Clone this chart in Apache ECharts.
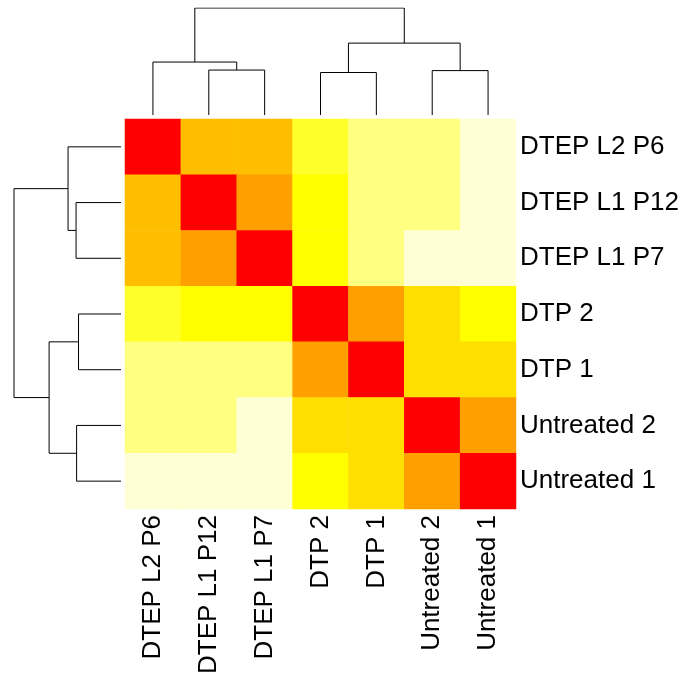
<!DOCTYPE html>
<html>
<head>
<meta charset="utf-8">
<script src="https://cdn.jsdelivr.net/npm/echarts@6/dist/echarts.min.js"></script>
<style>html,body{margin:0;padding:0;background:#fff}#c{width:688px;height:680px}</style>
</head>
<body>
<div id="c"></div>
<script>
// Sample labels (display order, same for rows and columns)
var labels = ['DTEP L2 P6', 'DTEP L1 P12', 'DTEP L1 P7', 'DTP 2', 'DTP 1', 'Untreated 2', 'Untreated 1'];

// Colour level of each cell (1 = red / most similar ... 12 = palest), rows top to bottom
var row0 = [1, 7, 7, 10, 11, 11, 12];
var row1 = [7, 1, 6, 9, 11, 11, 12];
var row2 = [7, 6, 1, 9, 11, 12, 12];
var row3 = [10, 9, 9, 1, 6, 8, 9];
var row4 = [11, 11, 11, 6, 1, 8, 8];
var row5 = [11, 11, 12, 8, 8, 1, 6];
var row6 = [12, 12, 12, 9, 8, 6, 1];
var matrix = [row0, row1, row2, row3, row4, row5, row6];

// heat.colors(12) palette
var palette = ['#FF0000', '#FF2000', '#FF4000', '#FF6000', '#FF8000', '#FF9F00',
               '#FFBF00', '#FFDF00', '#FFFF00', '#FFFF2A', '#FFFF80', '#FFFFD5'];

// Dendrogram merges: [childA, childB, height]; leaves are 0..6, merged clusters are 'c0','c1',...
var merges = [
  [1, 2, 0.42],        // c0
  [0, 'c0', 0.495],    // c1
  [3, 4, 0.397],       // c2
  [5, 6, 0.415],       // c3
  ['c2', 'c3', 0.672], // c4
  ['c1', 'c4', 1.0]    // c5
];

// ---- build data ----
var heatData = [];
for (var r = 0; r < matrix.length; r++) {
  for (var c = 0; c < matrix[r].length; c++) heatData.push([c, r, matrix[r][c]]);
}
var pieces = palette.map(function (col, i) { return { value: i + 1, color: col }; });

function nodeInfo(n, nodes) {
  if (typeof n === 'number') return { pos: n, h: 0 };
  return nodes[+n.slice(1)];
}
var nodes = [];
var segs = []; // each: list of [pos, height]
merges.forEach(function (m) {
  var a = nodeInfo(m[0], nodes), b = nodeInfo(m[1], nodes), h = m[2];
  segs.push([[a.pos, a.h], [a.pos, h], [b.pos, h], [b.pos, b.h]]);
  nodes.push({ pos: (a.pos + b.pos) / 2, h: h });
});
var topLines = segs.map(function (s) { return { coords: s.map(function (p) { return [p[0], p[1]]; }) }; });
var leftLines = segs.map(function (s) { return { coords: s.map(function (p) { return [p[1], p[0]]; }) }; });

var font = 'Liberation Sans, Arial, Helvetica, sans-serif';
var hidden = { show: false };

var chart = echarts.init(document.getElementById('c'), null, { renderer: 'canvas' });
chart.setOption({
  animation: false,
  backgroundColor: '#ffffff',
  grid: [
    { left: 125, top: 119, width: 391, height: 390 },
    { left: 125, top: 8, width: 391, height: 107 },
    { left: 14, top: 119, width: 107, height: 390 }
  ],
  xAxis: [
    { gridIndex: 0, type: 'category', data: labels, position: 'bottom',
      axisLine: hidden, axisTick: hidden, splitLine: hidden,
      axisLabel: { rotate: 90, margin: 6, color: '#000', fontSize: 26, fontFamily: font, interval: 0 } },
    { gridIndex: 1, type: 'value', min: -0.5, max: 6.5, show: false },
    { gridIndex: 2, type: 'value', min: 0, max: 1.0, inverse: true, show: false }
  ],
  yAxis: [
    { gridIndex: 0, type: 'category', data: labels, inverse: true, position: 'right',
      axisLine: hidden, axisTick: hidden, splitLine: hidden,
      axisLabel: { margin: 4, color: '#000', fontSize: 26, fontFamily: font, interval: 0 } },
    { gridIndex: 1, type: 'value', min: 0, max: 1.0, show: false },
    { gridIndex: 2, type: 'value', min: -0.5, max: 6.5, inverse: true, show: false }
  ],
  visualMap: {
    type: 'piecewise', show: false, seriesIndex: 0, dimension: 2, pieces: pieces
  },
  series: [
    { type: 'heatmap', xAxisIndex: 0, yAxisIndex: 0, data: heatData,
      itemStyle: { borderWidth: 0 }, emphasis: { disabled: true } },
    { type: 'lines', coordinateSystem: 'cartesian2d', xAxisIndex: 1, yAxisIndex: 1,
      polyline: true, data: topLines, silent: true,
      lineStyle: { color: '#000', width: 1, opacity: 1 } },
    { type: 'lines', coordinateSystem: 'cartesian2d', xAxisIndex: 2, yAxisIndex: 2,
      polyline: true, data: leftLines, silent: true,
      lineStyle: { color: '#000', width: 1, opacity: 1 } }
  ]
});
</script>
</body>
</html>
